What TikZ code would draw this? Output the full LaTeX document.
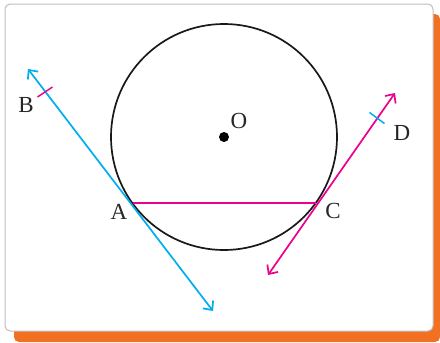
\documentclass[tikz,border=0pt]{standalone}
\usepackage{fontspec}
\setmainfont{Liberation Serif}
\usetikzlibrary{arrows.meta,calc}
\definecolor{skyb}{RGB}{0,174,239}
\definecolor{magn}{RGB}{236,0,140}
\definecolor{orng}{RGB}{241,112,34}
\definecolor{edgegray}{RGB}{190,190,190}
\tikzset{
  bluel/.style={draw=skyb,line width=1.7pt,{Straight Barb[length=7pt,width=13pt,line width=1.7pt]}-{Straight Barb[length=7pt,width=13pt,line width=1.7pt]}},
  magl/.style={draw=magn,line width=1.7pt,{Straight Barb[length=7pt,width=13pt,line width=1.7pt]}-{Straight Barb[length=7pt,width=13pt,line width=1.7pt]}},
  lbl/.style={inner sep=0pt,font=\fontsize{23}{25}\selectfont,text=black!85}
}
\begin{document}
\begin{tikzpicture}[x=1pt,y=-1pt]
\useasboundingbox (0,0) rectangle (440,343);
\fill[orng,rounded corners=5pt] (14,14) rectangle (440,342);
\filldraw[fill=white,draw=edgegray,line width=1pt,rounded corners=5pt] (5,4) rectangle (433,331);
% circle
\coordinate (O) at (224,137);
\draw[line width=1.7pt,black!90] (O) circle[radius=113];
\fill (O) circle[radius=5];
\node[lbl] (Ol) at (239,121) {O};
% points
\coordinate (A) at (132.5,203);
\coordinate (C) at (316,203);
\draw[magn,line width=1.5pt] (A) -- (C);
% blue tangent through A
\coordinate (b1) at (28,69);
\coordinate (b2) at (213,311);
\draw[bluel] (b1) -- (b2);
% magenta tangent through C
\coordinate (m1) at (395,93);
\coordinate (m2) at (268,275);
\draw[magl] (m2) -- (m1);
% ticks
\coordinate (tb) at (45,92);
\draw[magn,line width=1.5pt] ($(tb)+(-7.5,5)$) -- ($(tb)+(7.5,-5)$);
\coordinate (td) at (377,118);
\draw[skyb,line width=1.5pt] ($(td)+(-7.5,-5.5)$) -- ($(td)+(7.5,5.5)$);
% labels
\node[lbl] (Bl) at (26,105) {B};
\node[lbl] (Dl) at (402,133) {D};
\node[lbl] (Al) at (119,212) {A};
\node[lbl] (Cl) at (333,211) {C};
\end{tikzpicture}
\end{document}
